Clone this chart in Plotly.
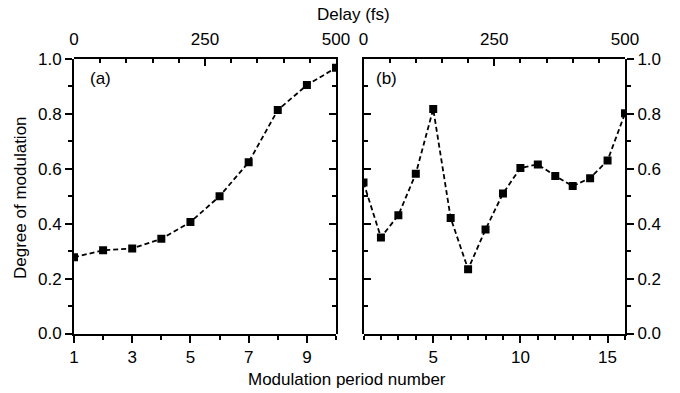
import plotly.graph_objects as go

# ---- data ----
period_a = [1, 2, 3, 4, 5, 6, 7, 8, 9, 10]
mod_a = [0.278, 0.303, 0.310, 0.345, 0.406, 0.500, 0.624, 0.814, 0.905, 0.968]

period_b = [1, 2, 3, 4, 5, 6, 7, 8, 9, 10, 11, 12, 13, 14, 15, 16]
mod_b = [0.55, 0.350, 0.431, 0.582, 0.818, 0.421, 0.234, 0.379, 0.510,
         0.603, 0.616, 0.574, 0.537, 0.566, 0.630, 0.802]

delay_ticks = [0, 250, 500]
y_ticks = [0.0, 0.2, 0.4, 0.6, 0.8, 1.0]
y_ticktext = ["0.0", "0.2", "0.4", "0.6", "0.8", "1.0"]
xa_ticks = [1, 3, 5, 7, 9]
xb_ticks = [5, 10, 15]

W, H = 680, 393
FONT = "Liberation Sans, Arial, sans-serif"
FS = 17

def px(x):
    return x / W

def py(y):
    return 1 - y / H

xdom_a = [px(74), px(336)]
xdom_b = [px(363.5), px(625)]
ydom = [py(333.5), py(59)]

fig = go.Figure()

line_style = dict(color="black", width=1.8, dash="5px,3px")
marker_style = dict(symbol="square", size=8, color="black")

fig.add_trace(go.Scatter(x=period_a, y=mod_a, mode="lines+markers",
                         line=line_style, marker=marker_style,
                         xaxis="x", yaxis="y", showlegend=False))
fig.add_trace(go.Scatter(x=period_b, y=mod_b, mode="lines+markers",
                         line=line_style, marker=marker_style,
                         xaxis="x2", yaxis="y2", showlegend=False))
# empty carrier traces so the delay / mirror axes form real subplots
fig.add_trace(go.Scatter(x=[], y=[], xaxis="x3", yaxis="y3",
                         showlegend=False, hoverinfo="skip"))
fig.add_trace(go.Scatter(x=[], y=[], xaxis="x4", yaxis="y4",
                         showlegend=False, hoverinfo="skip"))

base = dict(showline=True, linewidth=2, linecolor="black", showgrid=False,
            zeroline=False, tickcolor="black", tickwidth=2, ticklen=7,
            automargin=False,
            tickfont=dict(family=FONT, size=FS, color="black"))

def minor(dtick, tick0, direction):
    return dict(ticks=direction, dtick=dtick, tick0=tick0, ticklen=4,
                tickwidth=1.5, tickcolor="black")

fig.update_layout(
    width=W, height=H, autosize=False,
    margin=dict(l=0, r=0, t=0, b=0),
    plot_bgcolor="rgba(0,0,0,0)", paper_bgcolor="white",
    font=dict(family=FONT, size=FS, color="black"),
    xaxis=dict(base, domain=xdom_a, range=[1, 10], anchor="y", side="bottom",
               ticks="outside", tickvals=xa_ticks,
               minor=minor(1, 1, "outside")),
    yaxis=dict(base, domain=ydom, range=[0, 1], anchor="x", side="left",
               ticks="outside", tickvals=y_ticks, ticktext=y_ticktext,
               minor=minor(0.1, 0, "outside")),
    xaxis3=dict(base, domain=xdom_a, anchor="y3", side="top", range=[0, 500],
                ticks="inside", tickvals=delay_ticks, ticklabelstandoff=5,
                minor=minor(50, 0, "inside")),
    yaxis3=dict(base, domain=ydom, anchor="x3", side="right", range=[0, 1],
                ticks="inside", tickvals=y_ticks, showticklabels=False,
                minor=minor(0.1, 0, "inside")),
    xaxis2=dict(base, domain=xdom_b, range=[1, 16], anchor="y2", side="bottom",
                ticks="outside", tickvals=xb_ticks,
                minor=minor(1, 1, "outside")),
    yaxis2=dict(base, domain=ydom, range=[0, 1], anchor="x2", side="right",
                ticks="outside", tickvals=y_ticks, ticktext=y_ticktext,
                minor=minor(0.1, 0, "outside")),
    xaxis4=dict(base, domain=xdom_b, anchor="y4", side="top", range=[0, 500],
                ticks="inside", tickvals=delay_ticks, ticklabelstandoff=5,
                minor=minor(50, 0, "inside")),
    yaxis4=dict(base, domain=ydom, anchor="x4", side="left", range=[0, 1],
                ticks="inside", tickvals=y_ticks, showticklabels=False,
                minor=minor(0.1, 0, "inside")),
)

ann = dict(xref="paper", yref="paper", showarrow=False,
           font=dict(family=FONT, size=FS, color="black"))
fig.add_annotation(ann, text="Delay (fs)", x=px(353), y=py(15),
                   xanchor="center", yanchor="middle")
fig.add_annotation(ann, text="Modulation period number", x=px(347), y=py(379),
                   xanchor="center", yanchor="middle")
fig.add_annotation(ann, text="Degree of modulation", x=px(21), y=py(198),
                   xanchor="center", yanchor="middle", textangle=-90)
fig.add_annotation(ann, text="(a)", x=px(100), y=py(78),
                   xanchor="center", yanchor="middle")
fig.add_annotation(ann, text="(b)", x=px(386), y=py(78),
                   xanchor="center", yanchor="middle")

fig.write_html("out.html")
